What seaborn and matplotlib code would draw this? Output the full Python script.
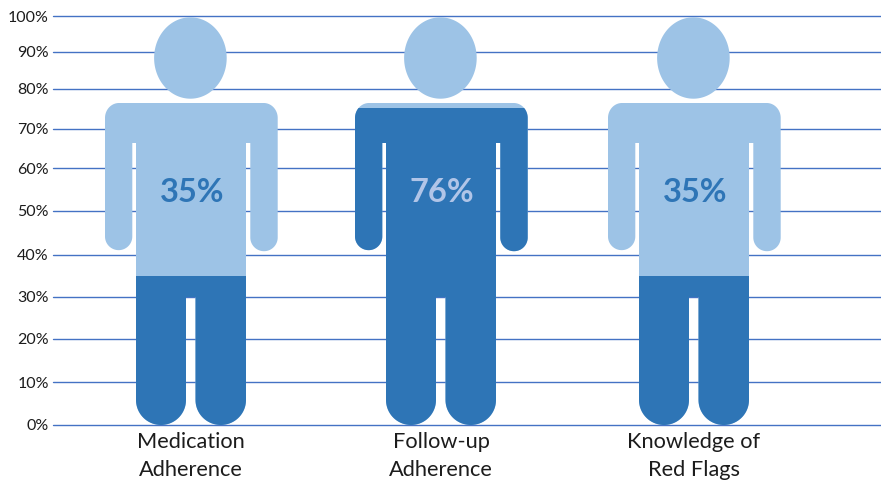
import numpy as np
import pandas as pd
import matplotlib
matplotlib.use("Agg")
import matplotlib.pyplot as plt
from matplotlib.path import Path
from matplotlib.patches import PathPatch
from matplotlib.transforms import blended_transform_factory
import seaborn as sns

# Survey results
categories = ["Medication\nAdherence", "Follow-up\nAdherence", "Knowledge of\nRed Flags"]
values = [35, 76, 35]
value_labels = ["35%", "76%", "35%"]
label_colors = ["#2E75B6", "#B1C5E8", "#2E75B6"]
centers = [191, 441, 694]

tick_values = list(range(0, 101, 10))
tick_labels = [f"{v}%" for v in tick_values]

# The axis is not evenly spaced: percent against height above the baseline
scale_pct = [0, 10, 20, 30, 40, 50, 60, 70, 76, 80, 90, 100]
scale_height = [0, 43, 86, 128, 170, 214, 257, 296, 317, 336.5, 373.5, 409]

LIGHT = "#9DC3E6"
DARK = "#2E75B6"
GRID = "#4472C4"
TEXT = "#1C1C1C"


def to_height(p):
    return np.interp(p, scale_pct, scale_height)


def from_height(h):
    return np.interp(h, scale_height, scale_pct)


def arc(cx, cy, rx, ry, start, stop, n=40):
    t = np.radians(np.linspace(start, stop, n))
    return np.column_stack([cx + rx * np.cos(t), cy + ry * np.sin(t)])


def figure_outline():
    """Head and body outline: x relative to the figure's centre, y above the feet."""
    body = np.vstack([
        [[-5, 128]],
        arc(-30, 25, 25, 25, 0, -180),
        [[-55, 282], [-58.7, 282]],
        arc(-72.35, 188.5, 13.65, 13.65, 0, -180),
        arc(-72, 307, 14, 15, 180, 90),
        arc(72.7, 307, 14, 15, 90, 0),
        arc(73, 187.5, 13.7, 13.7, 0, -180),
        [[59.3, 282], [55, 282]],
        arc(29.75, 25, 25.25, 25, 0, -180),
        [[4.5, 128]],
    ])
    head = arc(-0.6, 367, 36.3, 40.7, 0, 360, 120)
    return body, head


sns.set_theme(style="white")
plt.rcParams["font.family"] = ["Lato", "DejaVu Sans"]

fig = plt.figure(figsize=(8.81, 4.83), dpi=100, facecolor="white")
ax = fig.add_axes([53 / 881, 1 - 425 / 483, 828 / 881, 409 / 483])
ax.set_yscale("function", functions=(to_height, from_height))

data = pd.DataFrame({"center": centers, "value": values, "full": [100] * len(values)})
common = dict(data=data, x="center", native_scale=True, width=1.0, linewidth=0, ax=ax, zorder=3)
sns.barplot(y="full", color=LIGHT, saturation=1, **common)
sns.barplot(y="value", color=DARK, saturation=1, **common)

ax.set_xlim(53, 881)
ax.set_ylim(0, 100)
ax.set_xlabel("")
ax.set_ylabel("")
ax.set_xticks(centers, categories, fontsize=15.7, color=TEXT, linespacing=1.5)
ax.set_yticks(tick_values, tick_labels, fontsize=11.5, color=TEXT)
ax.tick_params(axis="both", length=0)
ax.tick_params(axis="y", pad=3)
ax.tick_params(axis="x", pad=5)
ax.minorticks_off()

for spine in ax.spines.values():
    spine.set_visible(False)
ax.set_axisbelow(True)
ax.grid(axis="y", color=GRID, linewidth=1.0)
for line in ax.get_ygridlines():
    line.set_clip_on(False)

# Each figure's bars only show inside its silhouette
outline_transform = blended_transform_factory(ax.transData, ax.transAxes)
body, head = figure_outline()
n_people = len(centers)
for i, cx in enumerate(centers):
    parts = []
    codes = []
    for part in (body, head):
        pts = part.copy()
        pts[:, 0] += cx
        pts[:, 1] /= 409
        part_codes = [Path.LINETO] * len(pts)
        part_codes[0] = Path.MOVETO
        parts.append(pts)
        codes.extend(part_codes)
    shape = PathPatch(Path(np.vstack(parts), codes), transform=outline_transform,
                      facecolor="none", edgecolor="none")
    ax.add_patch(shape)
    ax.patches[i].set_clip_path(shape)
    ax.patches[i + n_people].set_clip_path(shape)
    ax.text(cx + 1, 54.3, value_labels[i], ha="center", va="center", fontsize=23.5,
            fontweight="bold", color=label_colors[i], zorder=5)

fig.savefig("out.png", dpi=100, facecolor="white")
